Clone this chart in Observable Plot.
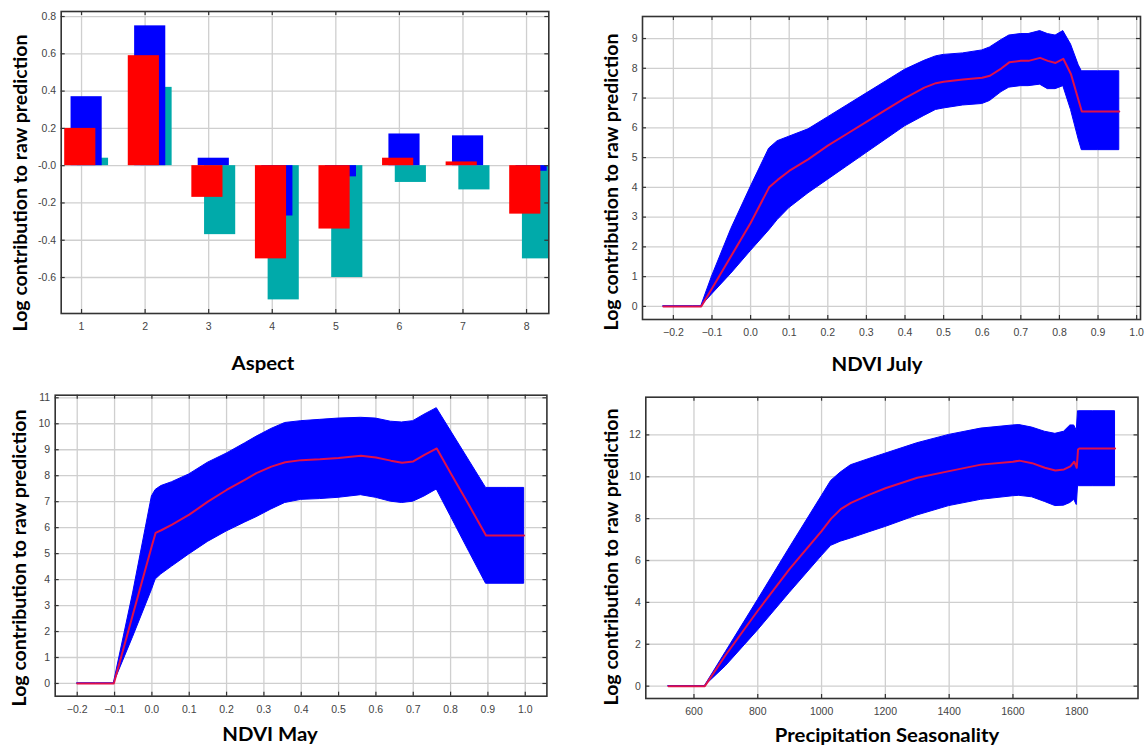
<!DOCTYPE html>
<html>
<head>
<meta charset="utf-8">
<script src="https://cdn.jsdelivr.net/npm/d3@7"></script>
<script src="https://cdn.jsdelivr.net/npm/@observablehq/plot@0.6"></script>
<style>
  html, body { margin: 0; padding: 0; background: #fff; overflow: hidden; }
  #wrap { position: relative; width: 1146px; height: 747px; background: #fff; }
  .panel { position: absolute; }
  .panel svg { overflow: visible; max-width: none !important; }
  .ylab, .xlab { position: absolute; font-family: Lato, "Open Sans", sans-serif; font-weight: 700;
    color: #000; white-space: nowrap; }
  .xlab { font-size: 19px; transform: translate(-50%, -50%) scaleX(1.07); }
  .ylab { font-size: 19.5px; transform: translate(-50%, -50%) rotate(-90deg); }
</style>
</head>
<body>
<div id="wrap"></div>
<script>
// ---------- Data ----------
const yLabelText = "Log contribution to raw prediction";

// Panel 1: Aspect (categorical response, three model runs)
const aspectCats = [1, 2, 3, 4, 5, 6, 7, 8];
const aspectBlue = [0.37, 0.75, 0.04, -0.27, -0.06, 0.17, 0.16, -0.03];
const aspectRed  = [0.20, 0.59, -0.17, -0.50, -0.34, 0.04, 0.02, -0.26];
const aspectTeal = [0.04, 0.42, -0.37, -0.72, -0.60, -0.09, -0.13, -0.50];
const aspectYTicks = [-0.6, -0.4, -0.2, 0, 0.2, 0.4, 0.6, 0.8];
const aspectYTickLabels = ["-0.6", "-0.4", "-0.2", "-0.0", "0.2", "0.4", "0.6", "0.8"];
const aspectXTicks = [1, 2, 3, 4, 5, 6, 7, 8];

// Panel 2: NDVI July
const julyX    = [-0.226, -0.2, -0.15, -0.128, -0.1, -0.05, 0.0, 0.048, 0.07, 0.1, 0.15, 0.2, 0.25, 0.3, 0.35, 0.4, 0.45, 0.48, 0.5, 0.55, 0.6, 0.62, 0.65, 0.67, 0.7, 0.72, 0.75, 0.77, 0.79, 0.81, 0.83, 0.85, 0.858, 0.9, 0.955];
const julyMean = [0, 0, 0, 0, 0.6, 1.7, 2.8, 4.0, 4.25, 4.55, 4.95, 5.4, 5.8, 6.2, 6.6, 7.0, 7.35, 7.5, 7.55, 7.62, 7.68, 7.75, 8.0, 8.2, 8.25, 8.25, 8.35, 8.25, 8.18, 8.32, 7.8, 6.9, 6.55, 6.55, 6.55];
const julyHigh = [0, 0, 0, 0, 1.0, 2.6, 4.0, 5.3, 5.55, 5.7, 5.95, 6.35, 6.75, 7.15, 7.55, 7.95, 8.25, 8.4, 8.45, 8.5, 8.6, 8.7, 8.95, 9.1, 9.15, 9.15, 9.25, 9.15, 9.1, 9.25, 8.8, 8.1, 7.9, 7.9, 7.9];
const julyLow  = [0, 0, 0, 0, 0.4, 1.1, 1.85, 2.55, 2.9, 3.3, 3.8, 4.25, 4.7, 5.15, 5.6, 6.05, 6.4, 6.6, 6.65, 6.75, 6.8, 6.9, 7.2, 7.35, 7.4, 7.4, 7.45, 7.3, 7.3, 7.4, 6.6, 5.6, 5.25, 5.25, 5.25];
const julyXTicks = [-0.2, -0.1, 0, 0.1, 0.2, 0.3, 0.4, 0.5, 0.6, 0.7, 0.8, 0.9, 1.0];
const julyYTicks = [0, 1, 2, 3, 4, 5, 6, 7, 8, 9];

// Panel 3: NDVI May
const mayX    = [-0.2, -0.15, -0.102, -0.05, 0.0, 0.01, 0.025, 0.054, 0.1, 0.15, 0.2, 0.25, 0.28, 0.32, 0.357, 0.4, 0.45, 0.5, 0.56, 0.6, 0.64, 0.67, 0.7, 0.73, 0.763, 0.8, 0.85, 0.895, 0.95, 0.997];
const mayMean = [0, 0, 0, 2.7, 5.3, 5.8, 5.9, 6.12, 6.5, 7.0, 7.45, 7.85, 8.1, 8.35, 8.52, 8.6, 8.63, 8.68, 8.77, 8.7, 8.58, 8.5, 8.55, 8.8, 9.05, 8.1, 6.85, 5.7, 5.7, 5.7];
const mayHigh = [0, 0, 0, 3.5, 7.2, 7.45, 7.6, 7.75, 8.05, 8.5, 8.85, 9.25, 9.5, 9.8, 10.03, 10.1, 10.15, 10.2, 10.23, 10.2, 10.08, 10.05, 10.1, 10.35, 10.6, 9.74, 8.58, 7.53, 7.53, 7.53];
const mayLow  = [0, 0, 0, 1.8, 3.6, 4.0, 4.2, 4.5, 4.97, 5.45, 5.85, 6.2, 6.4, 6.7, 6.95, 7.07, 7.1, 7.15, 7.25, 7.15, 7.0, 6.95, 7.0, 7.2, 7.47, 6.45, 5.07, 3.84, 3.84, 3.84];
const mayXTicks = [-0.2, -0.1, 0, 0.1, 0.2, 0.3, 0.4, 0.5, 0.6, 0.7, 0.8, 0.9, 1.0];
const mayYTicks = [0, 1, 2, 3, 4, 5, 6, 7, 8, 9, 10, 11];

// Panel 4: Precipitation Seasonality
const precX    = [520, 600, 634, 700, 800, 900, 1000, 1030, 1060, 1092, 1150, 1200, 1300, 1400, 1500, 1600, 1620, 1660, 1700, 1733, 1760, 1780, 1792, 1800, 1804, 1808, 1850, 1920];
const precMean = [0, 0, 0, 1.5, 3.6, 5.6, 7.4, 8.0, 8.45, 8.75, 9.15, 9.45, 9.95, 10.27, 10.58, 10.72, 10.77, 10.65, 10.43, 10.3, 10.35, 10.5, 10.72, 10.43, 11.3, 11.35, 11.35, 11.35];
const precHigh = [0, 0, 0, 1.63, 4.1, 6.6, 9.06, 9.8, 10.2, 10.55, 10.85, 11.1, 11.6, 12.0, 12.3, 12.45, 12.47, 12.35, 12.15, 12.05, 12.15, 12.45, 12.45, 12.2, 13.13, 13.13, 13.13, 13.13];
const precLow  = [0, 0, 0, 0.95, 2.65, 4.45, 6.2, 6.7, 6.9, 7.05, 7.35, 7.6, 8.15, 8.6, 8.9, 9.07, 9.09, 9.02, 8.8, 8.6, 8.62, 8.75, 8.9, 8.65, 9.55, 9.55, 9.55, 9.55];
const precXTicks = [600, 800, 1000, 1200, 1400, 1600, 1800];
const precYTicks = [0, 2, 4, 6, 8, 10, 12];

// ---------- Styles ----------
const BAND = "#0000ff", LINE = "#e0104a";
const GRID = "#cfcfcf", FRAME = "#333";
const wrap = document.getElementById("wrap");

function addText(cls, text, x, y) {
  const d = document.createElement("div");
  d.className = cls; d.textContent = text;
  d.style.left = x + "px"; d.style.top = y + "px";
  wrap.appendChild(d);
}

function gridMarks(xTicks, yTicks) {
  return [
    Plot.ruleX(xTicks, {x: d => d, stroke: GRID, strokeWidth: 1.3}),
    Plot.ruleY(yTicks, {y: d => d, stroke: GRID, strokeWidth: 1.3})
  ];
}
function tickMarks(xTicks, yTicks, pw, ph) {
  const L = 4;
  return [
    Plot.tickY(yTicks, {y: d => d, stroke: FRAME, strokeWidth: 1.2, insetRight: pw - L}),
    Plot.tickY(yTicks, {y: d => d, stroke: FRAME, strokeWidth: 1.2, insetLeft: pw - L}),
    Plot.tickX(xTicks, {x: d => d, stroke: FRAME, strokeWidth: 1.2, insetTop: ph - L}),
    Plot.tickX(xTicks, {x: d => d, stroke: FRAME, strokeWidth: 1.2, insetBottom: ph - L}),
    Plot.frame({stroke: FRAME, strokeWidth: 1.6})
  ];
}

function place(svg, left, top) {
  const d = document.createElement("div");
  d.className = "panel"; d.style.left = left + "px"; d.style.top = top + "px";
  d.appendChild(svg); wrap.appendChild(d);
}

const baseStyle = {fontFamily: "'Liberation Sans', Arial, sans-serif", fontSize: "10.5px", color: "#444", background: "transparent", overflow: "visible"};

// ---------- Panel 1: Aspect ----------
{
  const W = 573, H = 374, m = {l: 60.7, r: 24.7, t: 11, b: 61};
  const pw = W - m.l - m.r, ph = H - m.t - m.b;
  const rows = (vals, o1, o2) => aspectCats.map((c, i) => ({x1: c + o1, x2: c + o2, y: vals[i]}));
  const svg = Plot.plot({
    width: W, height: H,
    marginLeft: m.l, marginRight: m.r, marginTop: m.t, marginBottom: m.b,
    style: baseStyle,
    x: {domain: [0.68, 8.35], ticks: aspectXTicks, tickFormat: d => String(d), tickSize: 0, tickPadding: 9, label: null},
    y: {domain: [-0.793, 0.827], ticks: aspectYTicks, tickFormat: d => aspectYTickLabels[aspectYTicks.indexOf(d)], tickSize: 0, tickPadding: 5, label: null},
    marks: [
      ...gridMarks(aspectXTicks, aspectYTicks),
      Plot.rectY(rows(aspectTeal, -0.065, 0.425), {x1: "x1", x2: "x2", y: "y", fill: "#00aaaa", clip: true}),
      Plot.rectY(rows(aspectBlue, -0.165, 0.325), {x1: "x1", x2: "x2", y: "y", fill: "#0000ff", clip: true}),
      Plot.rectY(rows(aspectRed, -0.265, 0.225), {x1: "x1", x2: "x2", y: "y", fill: "#ff0000", clip: true}),
      ...tickMarks(aspectXTicks, aspectYTicks, pw, ph)
    ]
  });
  place(svg, 0, 0);
  addText("ylab", yLabelText, 19, 183);
  addText("xlab", "Aspect", 263, 362);
}

function curvePanel(xs, mean, low, high, xDom, yDom, xTicks, yTicks, xFmt, W, H, m, left, top) {
  const pw = W - m.l - m.r, ph = H - m.t - m.b;
  const rows = xs.map((x, i) => ({x, mean: mean[i], low: low[i], high: high[i]}));
  const svg = Plot.plot({
    width: W, height: H,
    marginLeft: m.l, marginRight: m.r, marginTop: m.t, marginBottom: m.b,
    style: baseStyle,
    x: {domain: xDom, ticks: xTicks, tickFormat: xFmt, tickSize: 0, tickPadding: 9, label: null},
    y: {domain: yDom, ticks: yTicks, tickFormat: d => String(d), tickSize: 0, tickPadding: 5, label: null},
    marks: [
      ...gridMarks(xTicks, yTicks),
      Plot.areaY(rows, {x: "x", y1: "low", y2: "high", fill: BAND, stroke: BAND, strokeWidth: 1, curve: "linear"}),
      Plot.lineY(rows, {x: "x", y: "mean", stroke: LINE, strokeWidth: 2, curve: "linear"}),
      ...tickMarks(xTicks, yTicks, pw, ph)
    ]
  });
  place(svg, left, top);
}

// ---------- Panel 2: NDVI July ----------
curvePanel(julyX, julyMean, julyLow, julyHigh, [-0.280, 1.010], [-0.44, 9.74], julyXTicks, julyYTicks,
  d3.format(".1f"), 573, 374, {l: 69, r: 6, t: 16, b: 55}, 573, 0);
addText("ylab", yLabelText, 610, 182);
addText("xlab", "NDVI July", 877, 363);

// ---------- Panel 3: NDVI May ----------
curvePanel(mayX, mayMean, mayLow, mayHigh, [-0.259, 1.058], [-0.49, 11.1], mayXTicks, mayYTicks,
  d3.format(".1f"), 573, 373, {l: 54.7, r: 26.6, t: 20.7, b: 51.3}, 0, 374);
addText("ylab", yLabelText, 18, 558);
addText("xlab", "NDVI May", 270, 733);

// ---------- Panel 4: Precipitation Seasonality ----------
curvePanel(precX, precMean, precLow, precHigh, [449, 1992], [-0.59, 13.8], precXTicks, precYTicks,
  d => String(d), 573, 373, {l: 72.3, r: 8.5, t: 22.7, b: 49}, 573, 374);
addText("ylab", yLabelText, 610, 557);
addText("xlab", "Precipitation Seasonality", 887, 734);
</script>
</body>
</html>
